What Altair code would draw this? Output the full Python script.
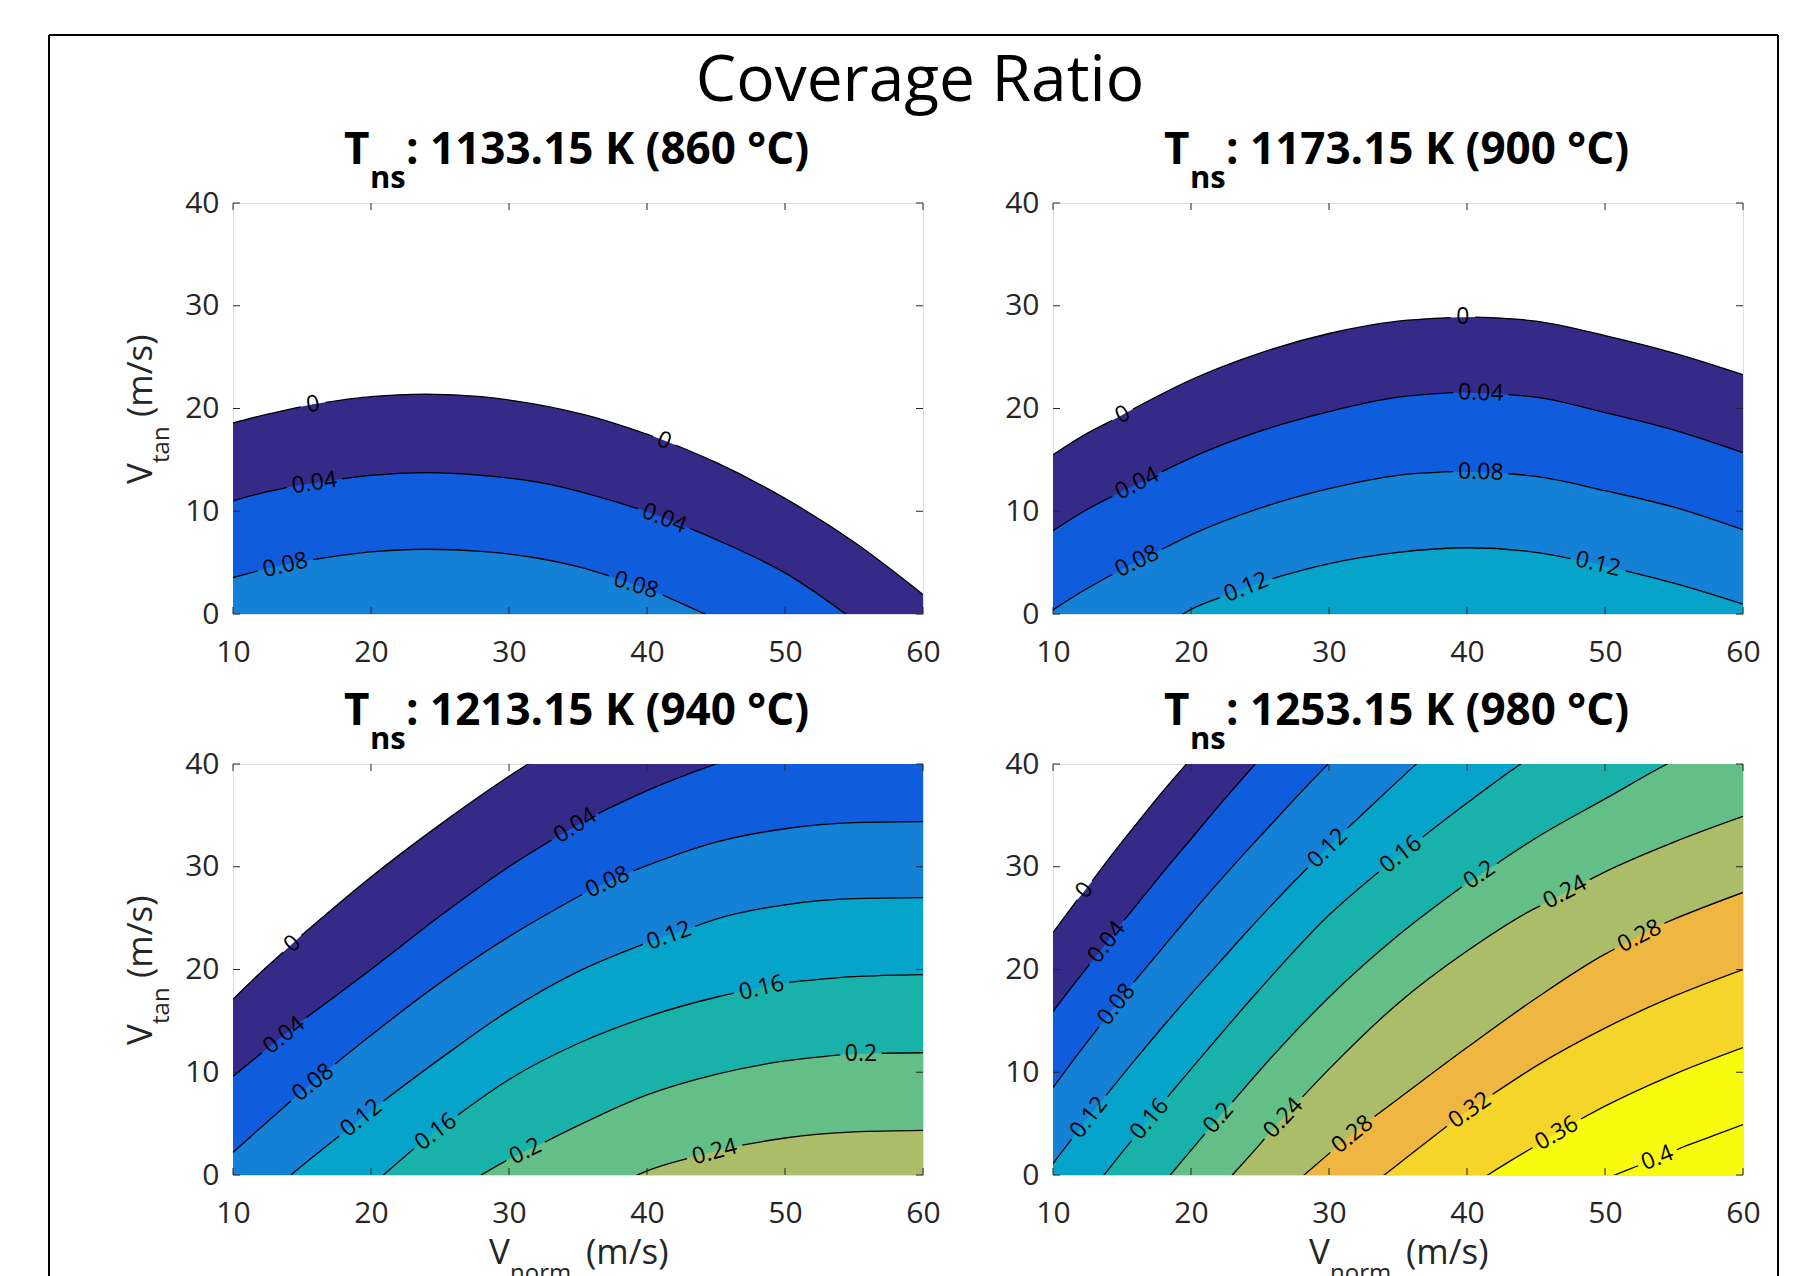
import altair as alt
import pandas as pd

# ---------------- data ----------------
X_TICKS = [10, 20, 30, 40, 50, 60]
Y_TICKS = [0, 10, 20, 30, 40]
LEVELS = ["0", "0.04", "0.08", "0.12", "0.16", "0.2", "0.24", "0.28", "0.32", "0.36", "0.4"]
BAND_COLORS = ["#352A87", "#0F5CDD", "#1481D6", "#06A4CA", "#19B2AB", "#64BE87",
               "#ACBD69", "#F0B642", "#F6D52A", "#F9FB0E", "#F9FB0E"]
T_KELVIN = ["1133.15", "1173.15", "1213.15", "1253.15"]
T_CELSIUS = ["860", "900", "940", "980"]

# contour lines: (Vnorm, Vtan, segment) ; segments break where the inline label sits
P1_LINES = {
    "0": [(10, 18.6, 0), (12.5, 19.45, 0), (14.9, 20.17, 0), (16.7, 20.6, 1), (20, 21.15, 1), (24, 21.4, 1),
          (28, 21.15, 1), (32, 20.4, 1), (36, 19.2, 1), (40, 17.5, 1), (40.44, 17.3, 1), (42.06, 16.45, 2),
          (45, 14.75, 2), (50, 11.25, 2), (55, 7.0, 2), (60, 1.9, 2)],
    "0.04": [(10, 11.0, 0), (12, 11.75, 0), (13.9, 12.3, 0), (17.9, 13.15, 1), (20, 13.5, 1), (24, 13.75, 1),
             (28, 13.5, 1), (32, 12.85, 1), (36, 11.6, 1), (39.35, 10.25, 1), (43.15, 8.3, 2), (45, 7.25, 2),
             (50, 4.0, 2), (55, -0.6, 2), (60, -6.0, 2)],
    "0.08": [(10, 3.55, 0), (11.8, 4.2, 0), (15.8, 5.3, 1), (20, 6.05, 1), (24, 6.3, 1), (28, 6.1, 1),
             (32, 5.45, 1), (35, 4.6, 1), (37.25, 3.7, 1), (41.15, 1.85, 2), (45, -0.5, 2), (50, -3.8, 2),
             (55, -7.8, 2), (60, -12.5, 2)],
}
P1_LABELS = [("0", 15.8, 20.4, 350), ("0.04", 15.9, 12.75, 351), ("0.08", 13.8, 4.75, 347),
             ("0", 41.25, 16.85, 21), ("0.04", 41.25, 9.3, 21), ("0.08", 39.2, 2.8, 17)]

P2_LINES = {
    "0": [(10, 15.5, 0), (12.5, 17.6, 0), (14.3, 18.85, 0), (15.8, 19.95, 1), (20, 22.8, 1), (25, 25.4, 1),
          (30, 27.3, 1), (35, 28.5, 1), (38.8, 28.85, 1), (40.6, 28.9, 2), (45, 28.5, 2), (50, 27.1, 2),
          (55, 25.4, 2), (60, 23.3, 2)],
    "0.04": [(10, 8.1, 0), (12.5, 10.2, 0), (14.3, 11.45, 0), (17.9, 13.85, 1), (20, 15.2, 1), (25, 17.8, 1),
             (30, 19.7, 1), (35, 21.1, 1), (39, 21.55, 1), (43, 21.35, 2), (45, 21.1, 2), (50, 19.6, 2),
             (55, 17.9, 2), (60, 15.7, 2)],
    "0.08": [(10, 0.4, 0), (12.5, 2.5, 0), (14.3, 3.85, 0), (17.9, 6.3, 1), (20, 7.7, 1), (25, 10.3, 1),
             (30, 12.2, 1), (35, 13.5, 1), (39, 13.85, 1), (43, 13.65, 2), (45, 13.4, 2), (50, 12.0, 2),
             (55, 10.4, 2), (60, 8.2, 2)],
    "0.12": [(10, -7.0, 0), (15, -3.0, 0), (19.4, 0, 0), (20, 0.45, 0), (22.1, 1.6, 0), (25.9, 3.45, 1),
             (30, 4.9, 1), (35, 6.0, 1), (40, 6.45, 1), (45, 6.0, 1), (47.5, 5.4, 1), (51.5, 4.2, 2),
             (55, 3.0, 2), (60, 0.95, 2)],
}
P2_LABELS = [("0", 15.05, 19.4, 332), ("0.04", 16.1, 12.7, 333), ("0.08", 16.1, 5.13, 334),
             ("0.12", 24.0, 2.6, 338), ("0", 39.7, 28.9, 0), ("0.04", 41.0, 21.5, 2),
             ("0.08", 41.0, 13.8, 2), ("0.12", 49.5, 4.85, 13)]

P3_LINES = {
    "0": [(10, 17.1, 0), (12, 19.7, 0), (13.65, 21.7, 0), (14.95, 23.3, 1), (20, 29.0, 1), (25, 34.1, 1),
          (30, 38.8, 1), (35, 43.0, 1), (40, 47.0, 1), (50, 54.5, 1), (60, 61.0, 1)],
    "0.04": [(10, 9.6, 0), (12.1, 11.9, 0), (15.3, 15.3, 1), (20, 20.0, 1), (25, 25.2, 1), (30, 30.0, 1),
             (33.1, 32.6, 1), (36.5, 35.2, 2), (40, 37.4, 2), (45, 40.0, 2), (50, 42.2, 2), (55, 44.0, 2),
             (60, 45.5, 2)],
    "0.08": [(10, 2.2, 0), (12, 4.6, 0), (14.2, 7.2, 0), (17.4, 10.8, 1), (20, 13.6, 1), (25, 18.7, 1),
             (30, 23.2, 1), (35.3, 27.3, 1), (39.0, 29.6, 2), (45, 32.4, 2), (50, 33.7, 2), (55, 34.3, 2),
             (60, 34.4, 2)],
    "0.12": [(10, -5.0, 0), (14.2, 0, 0), (15, 0.9, 0), (17.7, 3.8, 0), (20.9, 7.2, 1), (25, 11.3, 1),
             (30, 16.0, 1), (35, 19.8, 1), (39.7, 22.45, 1), (43.5, 24.2, 2), (45, 24.9, 2), (50, 26.3, 2),
             (55, 26.9, 2), (60, 27.0, 2)],
    "0.16": [(15, -7.0, 0), (20.9, 0, 0), (23.1, 2.55, 0), (26.3, 5.85, 1), (30, 9.3, 1), (35, 12.8, 1),
             (40, 15.4, 1), (45, 17.3, 1), (46.3, 17.7, 1), (50.3, 18.75, 2), (55, 19.3, 2), (60, 19.5, 2)],
    "0.2": [(22, -6.0, 0), (28, 0, 0), (29.8, 1.4, 0), (32.6, 3.2, 1), (35, 4.8, 1), (40, 7.8, 1),
            (45, 9.8, 1), (50, 11.1, 1), (54.0, 11.7, 1), (57.0, 11.85, 2), (60, 11.9, 2)],
    "0.24": [(35, -2.5, 0), (39.3, 0, 0), (40, 0.4, 0), (42.9, 1.6, 0), (46.9, 2.9, 1), (50, 3.6, 1),
             (55, 4.2, 1), (60, 4.35, 1)],
}
P3_LABELS = [("0", 14.3, 22.5, 318), ("0.04", 13.7, 13.6, 321), ("0.08", 15.8, 9.0, 321),
             ("0.12", 19.3, 5.55, 321), ("0.16", 24.7, 4.2, 323), ("0.2", 31.2, 2.3, 334),
             ("0.04", 34.8, 34.0, 328), ("0.08", 37.15, 28.5, 335), ("0.12", 41.6, 23.3, 340),
             ("0.16", 48.3, 18.2, 347), ("0.2", 55.5, 11.8, 0), ("0.24", 44.9, 2.25, 345)]

P4_LINES = {
    "0": [(10, 23.6, 0), (11.77, 26.8, 0), (12.83, 28.6, 1), (14, 30.7, 1), (16, 34.1, 1), (18, 37.4, 1),
          (20, 40.5, 1), (22, 43.5, 1), (25, 48.0, 1), (30, 55.0, 1), (60, 90.0, 1)],
    "0.04": [(10, 15.9, 0), (12, 19.4, 0), (12.65, 20.5, 0), (15.15, 24.8, 1), (16, 26.2, 1), (18, 29.5, 1),
             (20, 32.7, 1), (22, 35.9, 1), (24, 39.0, 1), (26, 42.0, 1), (30, 48.0, 1), (60, 85.0, 1)],
    "0.08": [(10, 8.5, 0), (12, 12.1, 0), (13.35, 14.45, 0), (15.85, 18.75, 1), (18, 22.2, 1), (20, 25.4, 1),
             (22, 28.5, 1), (24, 31.5, 1), (26, 34.4, 1), (28, 37.3, 1), (30, 40.1, 1), (35, 47.0, 1),
             (60, 80.0, 1)],
    "0.12": [(10, 1.1, 0), (11.35, 3.5, 0), (13.85, 7.75, 1), (16, 11.3, 1), (18, 14.5, 1), (20, 17.6, 1),
             (22, 20.6, 1), (24, 23.6, 1), (26, 26.5, 1), (28.46, 29.9, 1), (31.34, 33.75, 2), (34, 37.1, 2),
             (36, 39.6, 2), (38, 42.0, 2), (45, 50.0, 2), (60, 65.0, 2)],
    "0.16": [(12, -2.8, 0), (13.7, 0, 0), (15, 2.2, 0), (15.7, 3.35, 0), (18.3, 7.6, 1), (20, 10.3, 1),
             (25, 18.1, 1), (30, 25.3, 1), (33.6, 29.5, 1), (36.8, 32.9, 2), (40, 36.2, 2), (44, 40.1, 2),
             (50, 45.0, 2), (60, 52.0, 2)],
    "0.2": [(17, -2.5, 0), (18.5, 0, 0), (20, 2.4, 0), (21.0, 4.0, 0), (23.0, 7.1, 1), (25, 10.2, 1),
            (30, 17.3, 1), (35, 23.3, 1), (39.64, 28.05, 1), (42.16, 30.3, 2), (45, 32.8, 2), (50, 36.6, 2),
            (54.5, 40.0, 2), (60, 43.5, 2)],
    "0.24": [(21, -3.0, 0), (23, 0, 0), (25, 3.0, 0), (25.32, 3.5, 0), (28.08, 7.6, 1), (30, 10.3, 1),
             (35, 16.7, 1), (40, 21.8, 1), (45, 26.0, 1), (45.3, 26.2, 1), (48.9, 28.75, 2), (50, 29.5, 2),
             (55, 32.4, 2), (60, 34.9, 2)],
    "0.28": [(26, -2.5, 0), (28.2, 0, 0), (30.1, 2.2, 0), (33.3, 5.7, 1), (35, 7.4, 1), (40, 12.4, 1),
             (45, 17.2, 1), (50, 21.5, 1), (50.7, 22.0, 1), (54.3, 24.5, 2), (55, 24.9, 2), (60, 27.5, 2)],
    "0.32": [(32, -2.0, 0), (34, 0, 0), (36, 2.1, 0), (38.54, 4.75, 0), (41.86, 7.85, 1), (45, 10.6, 1),
             (50, 14.3, 1), (55, 17.4, 1), (60, 20.0, 1)],
    "0.36": [(40, -1.3, 0), (41.5, 0, 0), (43, 1.25, 0), (44.74, 2.65, 0), (48.26, 5.45, 1), (50, 6.7, 1),
             (55, 9.8, 1), (60, 12.4, 1)],
    "0.4": [(49, -0.9, 0), (50.7, 0, 0), (52.4, 0.9, 0), (55.2, 2.45, 1), (56, 2.9, 1), (58, 3.9, 1),
            (60, 4.9, 1)],
}
P4_LABELS = [("0", 12.3, 27.7, 307), ("0.04", 13.9, 22.65, 308), ("0.08", 14.6, 16.6, 308),
             ("0.12", 12.6, 5.6, 308), ("0.16", 17.0, 5.45, 310), ("0.2", 22.0, 5.55, 311),
             ("0.24", 26.7, 5.55, 313), ("0.28", 31.7, 3.95, 321), ("0.12", 29.9, 31.8, 315),
             ("0.16", 35.2, 31.2, 322), ("0.2", 40.9, 29.2, 326), ("0.24", 47.1, 27.5, 332),
             ("0.28", 52.5, 23.25, 333), ("0.32", 40.2, 6.3, 325), ("0.36", 46.5, 4.05, 330),
             ("0.4", 53.8, 1.65, 338)]

# ---------------- styling ----------------
FONT = "Open Sans"
AXC = "#262626"
W, H = 690, 411

xs = alt.Scale(domain=[10, 60], nice=False, zero=False)
ys = alt.Scale(domain=[0, 40], nice=False, zero=False)
xaxis = alt.Axis(values=X_TICKS, title=None, grid=False, ticks=False, domain=False, labelFont=FONT,
                 labelFontSize=30, labelColor=AXC, labelPadding=23, labelFlush=False, labelOverlap=False)
yaxis = alt.Axis(values=Y_TICKS, title=None, grid=False, ticks=False, domain=False, labelFont=FONT,
                 labelFontSize=30, labelColor=AXC, labelPadding=14, labelFlush=False, labelOverlap=False)


def X():
    return alt.X("x:Q", scale=xs, axis=xaxis)


def Y(**kw):
    return alt.Y("y:Q", scale=ys, axis=yaxis, **kw)


ONE = pd.DataFrame({"k": [0]})


def txt(s, x, y, size, weight="normal", angle=0, align="left", color=AXC):
    return alt.Chart(ONE).mark_text(text=s, font=FONT, fontSize=size, fontWeight=weight, angle=angle,
                                    align=align, baseline="alphabetic", color=color).encode(
        x=alt.value(x), y=alt.value(y))


def vrule(x, y, y2):
    return alt.Chart(ONE).mark_rule(color="black", strokeWidth=2).encode(
        x=alt.value(x), y=alt.value(y), y2=alt.value(y2))


def hrule(x, x2, y):
    return alt.Chart(ONE).mark_rule(color="black", strokeWidth=2).encode(
        x=alt.value(x), x2=alt.value(x2), y=alt.value(y))


def panel(lines, labels, idx, left, bottom, extra=()):
    layers = []
    line_rows = []
    for lvl in LEVELS:
        if lvl not in lines:
            continue
        pts = lines[lvl]
        df = pd.DataFrame(pts, columns=["x", "y", "seg"])
        layers.append(alt.Chart(df).mark_area(color=BAND_COLORS[LEVELS.index(lvl)], clip=True,
                                              interpolate="monotone", opacity=1).encode(
            x=X(), y=Y(stack=None), y2=alt.datum(-10)))
        for (x, y, s) in pts:
            line_rows.append({"x": x, "y": y, "key": f"{lvl}_{s}"})
    layers.append(alt.Chart(pd.DataFrame(line_rows)).mark_line(
        color="black", strokeWidth=1.3, clip=True, interpolate="monotone").encode(
        x=X(), y=Y(), detail="key:N"))
    lab = pd.DataFrame(labels, columns=["t", "x", "y", "a"])
    layers.append(alt.Chart(lab).mark_text(font=FONT, fontSize=23, color="black", align="center",
                                           baseline="middle").encode(
        x=X(), y=Y(), text="t:N", angle=alt.Angle("a:Q", scale=None)))
    # inward ticks on all four sides
    xt = pd.DataFrame({"x": X_TICKS})
    yt = pd.DataFrame({"y": Y_TICKS})
    layers.append(alt.Chart(xt).mark_rule(color=AXC, strokeWidth=1).encode(
        x=X(), y=alt.value(0), y2=alt.value(7)))
    layers.append(alt.Chart(xt).mark_rule(color=AXC, strokeWidth=1).encode(
        x=X(), y=alt.value(H - 7), y2=alt.value(H)))
    layers.append(alt.Chart(yt).mark_rule(color=AXC, strokeWidth=1).encode(
        y=Y(), x=alt.value(0), x2=alt.value(7)))
    layers.append(alt.Chart(yt).mark_rule(color=AXC, strokeWidth=1).encode(
        y=Y(), x=alt.value(W - 7), x2=alt.value(W)))
    # panel title  T_ns : ... K (... °C)
    layers.append(txt("T", 111, -39, 44, weight="bold", color="black"))
    layers.append(txt("ns", 137, -15, 31, weight="bold", color="black"))
    layers.append(txt(f": {T_KELVIN[idx]} K ({T_CELSIUS[idx]} °C)", 173, -39, 44, weight="bold",
                      color="black"))
    if left:
        layers.append(txt("V", -81, 281, 35, angle=270))
        layers.append(txt("tan", -64, 260, 24, angle=270))
        layers.append(txt("(m/s)", -81, 214, 35, angle=270))
    if bottom:
        layers.append(txt("V", 256, 500, 35))
        layers.append(txt("norm", 277, 517, 24))
        layers.append(txt("(m/s)", 353, 500, 35))
    layers.extend(extra)
    return alt.layer(*layers).properties(width=W, height=H)


figure_extra = [
    txt("Coverage Ratio", 687, -102, 64, align="center", color="black"),
    vrule(-184, -168, 1080),
    vrule(1545, -168, 1080),
    hrule(-184, 1545, -168),
]

p1 = panel(P1_LINES, P1_LABELS, 0, True, False, figure_extra)
p2 = panel(P2_LINES, P2_LABELS, 1, False, False)
p3 = panel(P3_LINES, P3_LABELS, 2, True, True)
p4 = panel(P4_LINES, P4_LABELS, 3, False, True)

chart = alt.concat(p1, p2, p3, p4, columns=2, spacing={"row": 150, "column": 130}, bounds="flush").properties(
    padding={"left": 39, "top": 25, "right": 0, "bottom": 0}
).configure_view(stroke=AXC, strokeWidth=1.2, fill="white").configure(background="white")

chart.save("out.html", embed_options={"renderer": "svg", "actions": False})
